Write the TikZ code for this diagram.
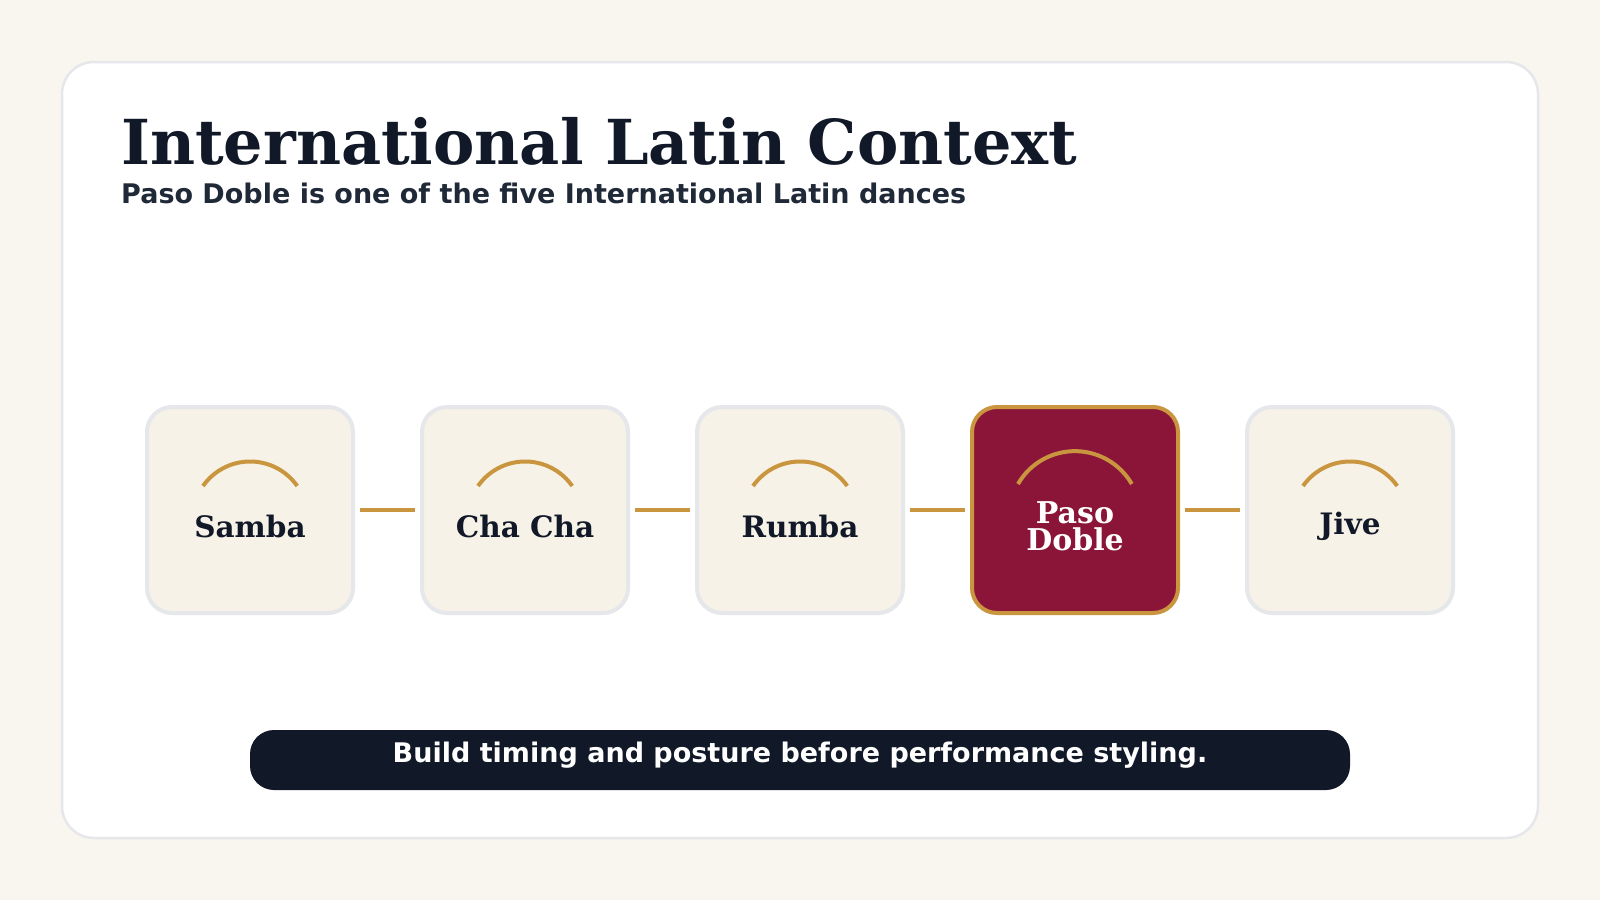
\documentclass[tikz,border=0pt]{standalone}
\usepackage{fontspec}
\setmainfont{DejaVu Serif}
\setsansfont{DejaVu Sans}
\definecolor{bgcream}{HTML}{F9F6EF}
\definecolor{cardline}{HTML}{E5E7EB}
\definecolor{boxfill}{HTML}{F7F2E8}
\definecolor{gold}{HTML}{C9963F}
\definecolor{burgundy}{HTML}{8B1538}
\definecolor{ink}{HTML}{111827}
\definecolor{subink}{HTML}{1F2937}
\tikzset{
  dancebox/.style={draw=cardline, line width=4pt, fill=boxfill, rounded corners=25pt,
    minimum width=206pt, minimum height=206pt, inner sep=0pt, outer sep=0pt},
  hotbox/.style={dancebox, draw=gold, fill=burgundy},
  dancelabel/.style={font=\bfseries\fontsize{29.5}{27}\selectfont, text=ink, align=center, inner sep=0pt},
  hotlabel/.style={dancelabel, font=\bfseries\fontsize{30}{27}\selectfont, text=white},
  link/.style={draw=gold, line width=4pt, shorten <=7pt, shorten >=7pt},
  arcline/.style={draw=gold, line width=4pt}
}
\begin{document}
\begin{tikzpicture}[x=1pt,y=-1pt]
\useasboundingbox (0,0) rectangle (1600,900);
\fill[bgcream] (0,0) rectangle (1600,900);
\draw[cardline, line width=2.5pt, fill=white, rounded corners=32pt] (62,62) rectangle (1538,838);
\node[anchor=base west, inner sep=0pt, text=ink, font=\bfseries\fontsize{62}{64}\selectfont] (title) at (121,164) {International Latin Context};
\node[anchor=base west, inner sep=0pt, text=subink, font=\sffamily\bfseries\fontsize{27}{30}\selectfont] (subtitle) at (121,203) {Paso Doble is one of the five International Latin dances};
\node[dancebox] (samba) at (250,510) {};
\node[dancebox] (chacha) at (525,510) {};
\node[dancebox] (rumba) at (800,510) {};
\node[hotbox] (paso) at (1075,510) {};
\node[dancebox] (jive) at (1350,510) {};
\draw[link] (samba.east) -- (chacha.west);
\draw[link] (chacha.east) -- (rumba.west);
\draw[link] (rumba.east) -- (paso.west);
\draw[link] (paso.east) -- (jive.west);
\foreach \n in {samba,chacha,rumba,jive}{
  \draw[arcline] (\n.center) ++(-47,-24) arc[start angle=215, end angle=325, radius=57.5];
}
\draw[arcline] (paso.center) ++(-57,-26) arc[start angle=210, end angle=330, radius=65.7];
\node[dancelabel] (lsamba) at ([yshift=-16pt]samba.center) {Samba};
\node[dancelabel] (lchacha) at ([yshift=-16pt]chacha.center) {Cha Cha};
\node[dancelabel] (lrumba) at ([yshift=-16pt]rumba.center) {Rumba};
\node[hotlabel] (lpaso) at ([yshift=-16pt]paso.center) {Paso\\Doble};
\node[dancelabel] (ljive) at ([yshift=-16pt]jive.center) {Jive};
\node[fill=ink, rounded corners=24pt, minimum width=1100pt, minimum height=60pt, inner sep=0pt] (bar) at (800,760) {};
\node[anchor=base, inner sep=0pt, text=white, font=\sffamily\bfseries\fontsize{27}{30}\selectfont] (bartext) at (800,762) {Build timing and posture before performance styling.};
\end{tikzpicture}
\end{document}
